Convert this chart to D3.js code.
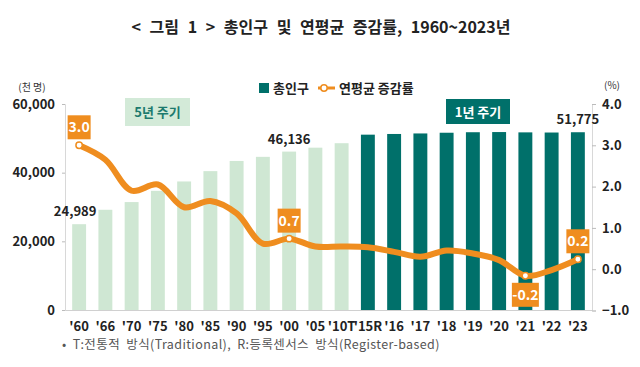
<!DOCTYPE html>
<html><head><meta charset="utf-8">
<script src="https://cdn.jsdelivr.net/npm/d3@7"></script>
<style>
body{margin:0;background:#fff;}
text{font-family:"Noto Sans CJK KR","Noto Sans",sans-serif;}
</style></head>
<body><svg id="c" width="640" height="367"></svg>
<script>
const categories = ["'60","'66","'70","'75","'80","'85","'90","'95","'00","'05","'10T","'15R","'16","'17","'18","'19","'20","'21","'22","'23"];
const population = [24989,29193,31435,34707,37436,40448,43411,44609,46136,47279,48580,51069,51270,51423,51630,51779,51829,51738,51692,51775];
const growthRate = [3.0,2.65,1.9,2.05,1.5,1.65,1.35,0.62,0.74,0.55,0.55,0.53,0.42,0.3,0.45,0.38,0.22,-0.16,-0.02,0.24];
const leftTicks = [0,20000,40000,60000];
const rightTicks = [-1,0,1,2,3,4];
const annualStart = 11; // index of '15R (1년 주기)
const popLabels = [0,8,19];
const rateLabelIdx = [0,8,17,19];
const rateLabelText = ["3.0","0.7","-0.2","0.2"];
const rateLabelPos = ["above","above","below","above"];

const svg = d3.select("#c");
const teal = "#00706a", light = "#cfe7d3", orange = "#ef8d1f", dark = "#222";

const x = d3.scaleBand().domain(categories).range([66,591]).paddingInner(0.47).paddingOuter(0.235);
const yL = d3.scaleLinear().domain([0,60000]).range([310,104]);
const yR = d3.scaleLinear().domain([-1,4]).range([310.5,104]);

// title
svg.append("text").attr("x",321).attr("y",33).attr("text-anchor","middle")
  .attr("font-size",16).attr("font-weight","bold").attr("fill","#222").attr("word-spacing",5)
  .text("< 그림 1 > 총인구 및 연평균 증감률, 1960~2023년");

// bars
svg.append("g").selectAll("rect").data(population).join("rect")
  .attr("x",(d,i)=>x(categories[i])).attr("width",x.bandwidth())
  .attr("y",d=>yL(d)).attr("height",d=>yL(0)-yL(d))
  .attr("fill",(d,i)=> i>=annualStart ? teal : light);

// baseline
svg.append("line").attr("x1",65).attr("x2",592).attr("y1",310.5).attr("y2",310.5).attr("stroke","#d0d0d0");

// left axis
const gl = svg.append("g").attr("transform","translate(65,0)")
  .call(d3.axisLeft(yL).tickValues(leftTicks).tickFormat(d3.format(",")).tickSize(3).tickPadding(7));
gl.select(".domain").attr("stroke","#d8d8d8");
gl.selectAll(".tick line").attr("stroke","#bbb");
gl.selectAll(".tick text").attr("font-size",13).attr("font-weight","bold").attr("fill",dark)
  .style("font-family","'Noto Sans CJK KR',sans-serif");

// right axis
const gr = svg.append("g").attr("transform","translate(592,0)")
  .call(d3.axisRight(yR).tickValues(rightTicks).tickFormat(d3.format(".1f")).tickSize(4).tickPadding(6));
gr.select(".domain").attr("stroke","#d8d8d8");
gr.selectAll(".tick line").attr("stroke","#bbb");
gr.selectAll(".tick text").attr("font-size",13).attr("font-weight","bold").attr("fill",dark)
  .style("font-family","'Noto Sans CJK KR',sans-serif");

// unit labels
svg.append("text").attr("x",32).attr("y",91).attr("text-anchor","middle").attr("font-size",10).attr("fill","#333").text("(천 명)");
svg.append("text").attr("x",612).attr("y",89).attr("text-anchor","middle").attr("font-size",10).attr("fill","#333").text("(%)");

// x labels
svg.append("g").selectAll("text").data(categories).join("text")
  .attr("x",d=>x(d)+x.bandwidth()/2).attr("y",331).attr("text-anchor","middle")
  .attr("font-size",13).attr("font-weight","bold").attr("fill",dark).text(d=>d);

// period boxes
svg.append("rect").attr("x",125).attr("y",98).attr("width",65).attr("height",28).attr("fill","#d3ead8");
svg.append("text").attr("x",157.5).attr("y",117).attr("text-anchor","middle").attr("font-size",13)
  .attr("font-weight","bold").attr("fill","#1c7a6e").text("5년 주기");
svg.append("rect").attr("x",446).attr("y",99).attr("width",64).attr("height",25).attr("fill",teal);
svg.append("text").attr("x",478).attr("y",116.5).attr("text-anchor","middle").attr("font-size",13)
  .attr("font-weight","bold").attr("fill","#fff").text("1년 주기");

// population labels
svg.append("g").selectAll("text").data(popLabels).join("text")
  .attr("x",i=>x(categories[i])+x.bandwidth()/2 + (i===0?-4:0))
  .attr("y",i=>yL(population[i])-8).attr("text-anchor","middle")
  .attr("font-size",13).attr("font-weight","bold").attr("fill",dark)
  .text(i=>d3.format(",")(population[i]));

// line
const cx = i=>x(categories[i])+x.bandwidth()/2;
const line = d3.line().x((d,i)=>cx(i)).y(d=>yR(d)).curve(d3.curveCatmullRom.alpha(0.5));
svg.append("path").datum(growthRate).attr("d",line).attr("fill","none")
  .attr("stroke",orange).attr("stroke-width",6).attr("stroke-linecap","round");

// labeled points
rateLabelIdx.forEach((idx,k)=>{
  const px = cx(idx), py = yR(growthRate[idx]);
  const label = rateLabelText[k];
  const w = label.length>3 ? 27 : 23, h = 24;
  const by = rateLabelPos[k]==="above" ? py-6-h : py+7;
  svg.append("rect").attr("x",px-w/2).attr("y",by).attr("width",w).attr("height",h).attr("fill",orange);
  svg.append("text").attr("x",px).attr("y",by+h/2+5).attr("text-anchor","middle")
    .attr("font-size",14).attr("font-weight","bold").attr("fill","#fff").text(label);
  svg.append("circle").attr("cx",px).attr("cy",py).attr("r",3.2).attr("fill","#fff").attr("stroke",orange).attr("stroke-width",1.5);
});

// legend
svg.append("rect").attr("x",259).attr("y",83).attr("width",10).attr("height",10).attr("fill",teal);
svg.append("text").attr("x",273).attr("y",93).attr("font-size",13).attr("font-weight","bold").attr("fill",dark).text("총인구");
svg.append("line").attr("x1",318).attr("x2",335).attr("y1",88).attr("y2",88).attr("stroke",orange).attr("stroke-width",3);
svg.append("circle").attr("cx",324).attr("cy",88).attr("r",3.2).attr("fill","#fff").attr("stroke",orange).attr("stroke-width",1.5);
svg.append("text").attr("x",339).attr("y",93).attr("font-size",13).attr("font-weight","bold").attr("fill",dark).text("연평균 증감률");

// footnote
svg.append("text").attr("x",62).attr("y",349).attr("font-size",12.5).attr("fill","#555")
  .attr("letter-spacing",0.4).attr("word-spacing",3)
  .text("• T:전통적 방식(Traditional), R:등록센서스 방식(Register-based)");
</script></body></html>
